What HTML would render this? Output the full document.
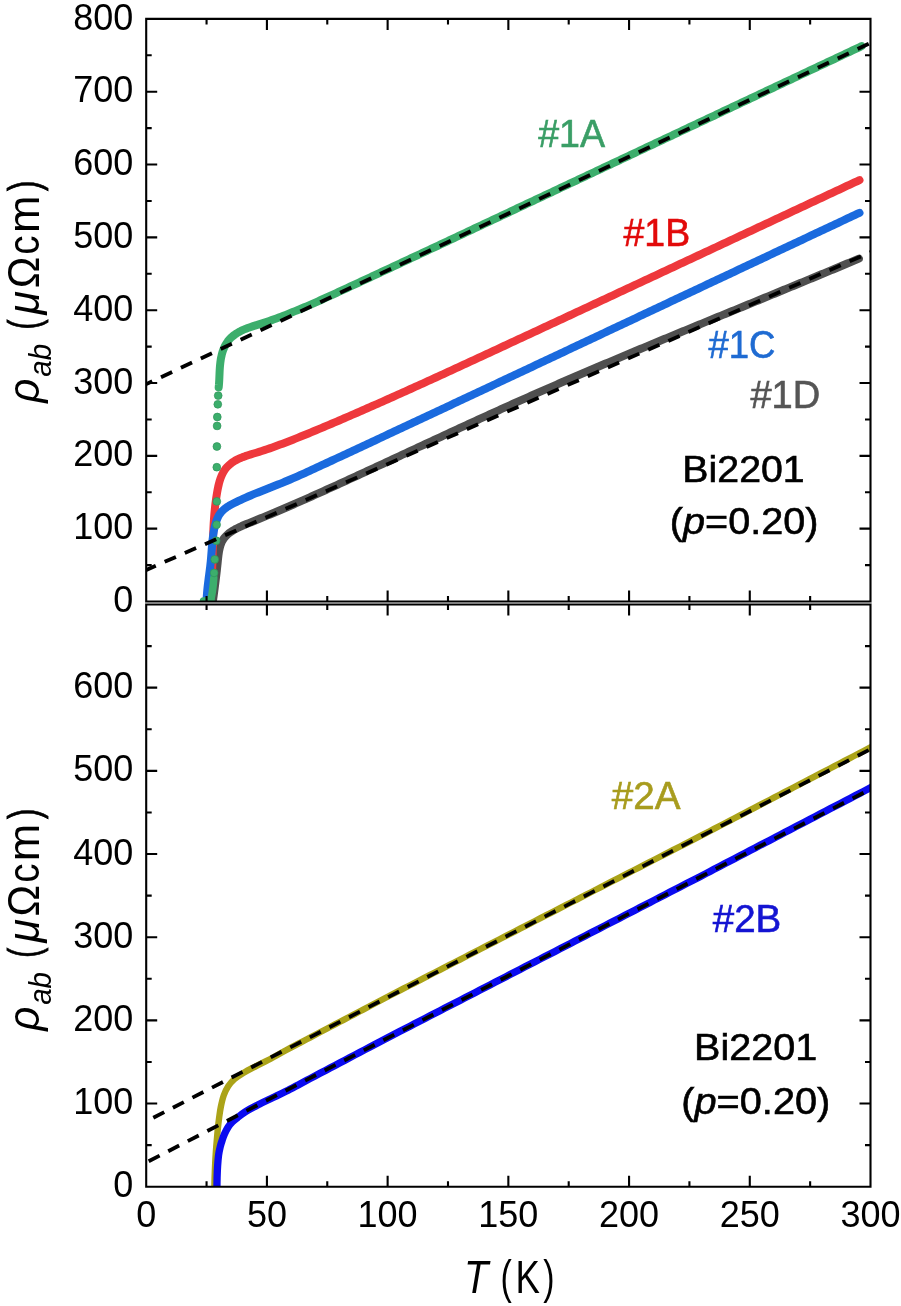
<!DOCTYPE html>
<html><head><meta charset="utf-8"><title>Bi2201 resistivity</title>
<style>html,body{margin:0;padding:0;background:#fff;width:901px;height:1306px;overflow:hidden}svg{display:block}</style>
</head><body>
<svg width="901" height="1306" viewBox="0 0 901 1306">
<rect width="901" height="1306" fill="#fff"/>
<defs><clipPath id="c1"><rect x="146.2" y="18.9" width="724.3" height="582.6"/></clipPath>
<clipPath id="c2"><rect x="146.2" y="604.5" width="724.3" height="582.2"/></clipPath></defs>
<g clip-path="url(#c1)" fill="none" stroke-linecap="round" stroke-linejoin="round" stroke-width="8">
<path d="M212.94,601 L213.28,598.43 L213.62,595.89 L213.96,593.36 L214.29,590.86 L214.62,588.36 L214.94,585.87 L215.26,583.39 L215.57,580.91 L215.88,578.43 L216.18,575.94 L216.48,573.45 L216.77,570.94 L217.05,568.41 L217.32,565.86 L217.59,563.28 L217.85,560.68 L218.12,558.06 L218.42,555.44 L218.78,552.84 L219.22,550.28 L219.77,547.78 L220.46,545.36 L221.3,543.05 L222.34,540.85 L223.59,538.8 L225.07,536.91 L226.75,535.16 L228.61,533.55 L230.6,532.06 L232.71,530.69 L234.9,529.41 L237.15,528.22 L239.43,527.1 L241.74,526.04 L244.08,525.03 L246.43,524.06 L248.8,523.1 L251.17,522.16 L253.54,521.21 L255.91,520.25 L258.27,519.29 L260.63,518.33 L262.99,517.36 L265.34,516.39 L267.69,515.42 L270.04,514.44 L272.39,513.46 L274.74,512.47 L277.08,511.48 L279.42,510.49 L281.76,509.49 L284.09,508.49 L286.43,507.49 L288.76,506.48 L291.09,505.47 L293.42,504.46 L295.75,503.44 L298.07,502.42 L300.4,501.4 L302.72,500.38 L305.04,499.35 L307.36,498.32 L309.68,497.29 L311.99,496.26 L314.31,495.22 L316.62,494.19 L318.94,493.15 L321.25,492.11 L323.56,491.06 L325.87,490.02 L328.18,488.97 L330.49,487.92 L332.8,486.87 L335.11,485.82 L337.41,484.77 L339.72,483.71 L342.03,482.66 L344.33,481.6 L346.64,480.55 L348.94,479.49 L351.25,478.43 L353.55,477.37 L355.86,476.31 L358.16,475.25 L360.46,474.18 L362.77,473.12 L365.07,472.06 L367.37,470.99 L369.68,469.93 L371.98,468.86 L374.28,467.8 L376.58,466.73 L378.89,465.66 L381.19,464.59 L383.49,463.52 L385.79,462.46 L388.09,461.39 L390.39,460.32 L392.7,459.25 L395,458.18 L397.3,457.11 L399.6,456.04 L401.9,454.96 L404.2,453.89 L406.5,452.82 L408.8,451.75 L411.1,450.68 L413.41,449.61 L415.71,448.54 L418.01,447.47 L420.31,446.4 L422.61,445.32 L424.91,444.25 L427.21,443.18 L429.52,442.11 L431.82,441.04 L434.12,439.97 L436.42,438.9 L438.73,437.83 L441.03,436.77 L443.33,435.7 L445.63,434.63 L447.94,433.56 L450.24,432.49 L452.55,431.43 L454.85,430.36 L457.15,429.3 L459.46,428.23 L461.76,427.17 L464.07,426.11 L466.38,425.05 L468.68,423.98 L470.99,422.92 L473.3,421.86 L475.6,420.81 L477.91,419.75 L480.22,418.69 L482.53,417.64 L484.84,416.58 L487.15,415.53 L489.46,414.48 L491.77,413.42 L494.08,412.37 L496.39,411.33 L498.7,410.28 L501.02,409.23 L503.33,408.19 L505.64,407.14 L507.96,406.1 L510.27,405.06 L512.59,404.02 L514.9,402.98 L517.22,401.95 L519.54,400.91 L521.86,399.88 L524.18,398.85 L526.5,397.82 L528.82,396.79 L531.14,395.76 L533.46,394.74 L535.78,393.71 L538.1,392.69 L540.43,391.67 L542.75,390.65 L545.08,389.63 L547.4,388.61 L549.73,387.59 L552.05,386.58 L554.38,385.56 L556.71,384.55 L559.03,383.54 L561.36,382.53 L563.69,381.52 L566.02,380.51 L568.35,379.51 L570.68,378.5 L573.01,377.5 L575.34,376.49 L577.67,375.49 L580.01,374.49 L582.34,373.49 L584.67,372.49 L587.01,371.5 L589.34,370.5 L591.67,369.5 L594.01,368.51 L596.34,367.52 L598.68,366.52 L601.02,365.53 L603.35,364.54 L605.69,363.55 L608.03,362.56 L610.36,361.58 L612.7,360.59 L615.04,359.6 L617.38,358.62 L619.72,357.63 L622.06,356.65 L624.4,355.67 L626.74,354.68 L629.08,353.7 L631.42,352.72 L633.76,351.74 L636.1,350.76 L638.44,349.79 L640.78,348.81 L643.13,347.83 L645.47,346.85 L647.81,345.88 L650.16,344.9 L652.5,343.93 L654.84,342.96 L657.19,341.98 L659.53,341.01 L661.87,340.04 L664.22,339.07 L666.56,338.09 L668.91,337.12 L671.25,336.15 L673.6,335.18 L675.94,334.21 L678.29,333.25 L680.64,332.28 L682.98,331.31 L685.33,330.34 L687.68,329.37 L690.02,328.41 L692.37,327.44 L694.72,326.47 L697.06,325.51 L699.41,324.54 L701.76,323.58 L704.1,322.61 L706.45,321.65 L708.8,320.68 L711.15,319.72 L713.49,318.75 L715.84,317.79 L718.19,316.82 L720.54,315.86 L722.88,314.89 L725.23,313.93 L727.58,312.97 L729.93,312 L732.28,311.04 L734.62,310.08 L736.97,309.11 L739.32,308.15 L741.67,307.19 L744.02,306.22 L746.37,305.26 L748.71,304.29 L751.06,303.33 L753.41,302.37 L755.76,301.4 L758.1,300.44 L760.45,299.48 L762.8,298.51 L765.15,297.55 L767.5,296.58 L769.84,295.62 L772.19,294.65 L774.54,293.69 L776.89,292.72 L779.23,291.75 L781.58,290.79 L783.93,289.82 L786.27,288.85 L788.62,287.89 L790.97,286.92 L793.31,285.95 L795.66,284.98 L798,284.02 L800.35,283.05 L802.7,282.08 L805.04,281.11 L807.39,280.14 L809.73,279.17 L812.08,278.19 L814.42,277.22 L816.76,276.25 L819.11,275.28 L821.45,274.3 L823.8,273.33 L826.14,272.35 L828.48,271.38 L830.83,270.4 L833.17,269.43 L835.51,268.45 L837.85,267.47 L840.2,266.49 L842.54,265.51 L844.88,264.53 L847.22,263.55 L849.56,262.57 L851.9,261.59 L854.24,260.61 L856.58,259.62 L858.92,258.64" stroke="#4f4f4f"/>
<path d="M209.86,601.01 L210.19,598.22 L210.49,595.43 L210.76,592.65 L211,589.87 L211.22,587.09 L211.42,584.31 L211.59,581.53 L211.75,578.75 L211.89,575.97 L212.02,573.2 L212.13,570.42 L212.23,567.65 L212.32,564.87 L212.4,562.1 L212.47,559.33 L212.54,556.55 L212.61,553.78 L212.68,551.01 L212.75,548.23 L212.82,545.46 L212.89,542.69 L212.98,539.91 L213.07,537.14 L213.17,534.36 L213.28,531.59 L213.4,528.81 L213.55,526.03 L213.7,523.26 L213.88,520.48 L214.08,517.69 L214.3,514.91 L214.54,512.13 L214.81,509.34 L215.11,506.56 L215.44,503.77 L215.8,500.98 L216.2,498.19 L216.63,495.39 L217.09,492.59 L217.6,489.8 L218.16,487.01 L218.79,484.26 L219.52,481.55 L220.35,478.91 L221.31,476.35 L222.42,473.89 L223.69,471.56 L225.15,469.36 L226.8,467.31 L228.64,465.42 L230.65,463.68 L232.82,462.09 L235.12,460.65 L237.54,459.36 L240.07,458.19 L242.67,457.12 L245.34,456.15 L248.06,455.24 L250.81,454.37 L253.57,453.54 L256.32,452.71 L259.04,451.88 L261.74,451.02 L264.41,450.15 L267.05,449.27 L269.68,448.36 L272.29,447.45 L274.89,446.52 L277.48,445.57 L280.06,444.62 L282.64,443.65 L285.22,442.67 L287.8,441.68 L290.38,440.68 L292.96,439.67 L295.54,438.65 L298.11,437.62 L300.69,436.58 L303.26,435.54 L305.84,434.49 L308.41,433.43 L310.98,432.37 L313.55,431.31 L316.12,430.24 L318.69,429.16 L321.26,428.08 L323.83,427 L326.39,425.92 L328.96,424.83 L331.52,423.74 L334.08,422.65 L336.64,421.56 L339.2,420.46 L341.76,419.36 L344.32,418.26 L346.88,417.16 L349.43,416.06 L351.99,414.95 L354.54,413.84 L357.09,412.73 L359.64,411.62 L362.2,410.51 L364.75,409.39 L367.29,408.27 L369.84,407.15 L372.39,406.03 L374.94,404.91 L377.48,403.78 L380.03,402.66 L382.57,401.53 L385.11,400.4 L387.65,399.27 L390.2,398.13 L392.74,397 L395.28,395.86 L397.82,394.72 L400.35,393.58 L402.89,392.44 L405.43,391.3 L407.97,390.16 L410.5,389.01 L413.04,387.87 L415.57,386.72 L418.1,385.57 L420.64,384.42 L423.17,383.27 L425.7,382.12 L428.23,380.96 L430.77,379.81 L433.3,378.65 L435.83,377.5 L438.36,376.34 L440.89,375.18 L443.41,374.02 L445.94,372.86 L448.47,371.7 L451,370.54 L453.53,369.37 L456.05,368.21 L458.58,367.05 L461.11,365.88 L463.63,364.72 L466.16,363.55 L468.68,362.38 L471.21,361.21 L473.73,360.05 L476.26,358.88 L478.78,357.71 L481.3,356.54 L483.83,355.37 L486.35,354.2 L488.88,353.03 L491.4,351.86 L493.92,350.69 L496.45,349.52 L498.97,348.35 L501.49,347.17 L504.02,346 L506.54,344.83 L509.06,343.66 L511.58,342.49 L514.11,341.31 L516.63,340.14 L519.15,338.97 L521.68,337.8 L524.2,336.62 L526.72,335.45 L529.24,334.28 L531.77,333.1 L534.29,331.93 L536.81,330.76 L539.34,329.58 L541.86,328.41 L544.38,327.24 L546.9,326.06 L549.42,324.89 L551.95,323.72 L554.47,322.54 L556.99,321.37 L559.51,320.19 L562.04,319.02 L564.56,317.84 L567.08,316.67 L569.6,315.5 L572.12,314.32 L574.65,313.15 L577.17,311.97 L579.69,310.8 L582.21,309.62 L584.73,308.45 L587.26,307.27 L589.78,306.1 L592.3,304.92 L594.82,303.75 L597.34,302.57 L599.87,301.39 L602.39,300.22 L604.91,299.04 L607.43,297.87 L609.95,296.69 L612.47,295.51 L615,294.34 L617.52,293.16 L620.04,291.99 L622.56,290.81 L625.08,289.63 L627.6,288.46 L630.12,287.28 L632.65,286.1 L635.17,284.93 L637.69,283.75 L640.21,282.57 L642.73,281.4 L645.25,280.22 L647.77,279.04 L650.29,277.87 L652.82,276.69 L655.34,275.51 L657.86,274.34 L660.38,273.16 L662.9,271.98 L665.42,270.8 L667.94,269.63 L670.46,268.45 L672.98,267.27 L675.5,266.09 L678.03,264.92 L680.55,263.74 L683.07,262.56 L685.59,261.38 L688.11,260.21 L690.63,259.03 L693.15,257.85 L695.67,256.67 L698.19,255.5 L700.71,254.32 L703.23,253.14 L705.75,251.96 L708.28,250.78 L710.8,249.61 L713.32,248.43 L715.84,247.25 L718.36,246.07 L720.88,244.89 L723.4,243.72 L725.92,242.54 L728.44,241.36 L730.96,240.18 L733.48,239 L736,237.82 L738.52,236.65 L741.04,235.47 L743.56,234.29 L746.08,233.11 L748.6,231.93 L751.12,230.76 L753.64,229.58 L756.17,228.4 L758.69,227.22 L761.21,226.04 L763.73,224.86 L766.25,223.69 L768.77,222.51 L771.29,221.33 L773.81,220.15 L776.33,218.97 L778.85,217.79 L781.37,216.61 L783.89,215.44 L786.41,214.26 L788.93,213.08 L791.45,211.9 L793.97,210.72 L796.49,209.54 L799.01,208.37 L801.53,207.19 L804.05,206.01 L806.57,204.83 L809.09,203.65 L811.61,202.48 L814.13,201.3 L816.65,200.12 L819.17,198.94 L821.69,197.76 L824.21,196.58 L826.73,195.41 L829.25,194.23 L831.77,193.05 L834.29,191.87 L836.81,190.69 L839.33,189.52 L841.85,188.34 L844.37,187.16 L846.89,185.98 L849.41,184.8 L851.93,183.63 L854.46,182.45 L856.98,181.27 L859.5,180.09" stroke="#ee383c"/>
<path d="M206.57,601.03 L206.67,598.33 L206.83,595.65 L207.03,592.98 L207.27,590.32 L207.54,587.67 L207.84,585.03 L208.15,582.39 L208.49,579.76 L208.83,577.13 L209.17,574.51 L209.52,571.88 L209.85,569.25 L210.17,566.62 L210.47,563.99 L210.75,561.35 L210.99,558.7 L211.21,556.05 L211.42,553.39 L211.62,550.72 L211.82,548.05 L212.04,545.38 L212.28,542.71 L212.56,540.04 L212.87,537.36 L213.24,534.69 L213.67,532.02 L214.16,529.36 L214.74,526.7 L215.41,524.06 L216.2,521.47 L217.14,518.97 L218.24,516.58 L219.53,514.34 L221.04,512.29 L222.78,510.43 L224.72,508.76 L226.82,507.24 L229.05,505.83 L231.37,504.53 L233.73,503.28 L236.12,502.08 L238.52,500.91 L240.93,499.77 L243.36,498.65 L245.79,497.57 L248.24,496.5 L250.69,495.46 L253.16,494.43 L255.62,493.42 L258.1,492.42 L260.57,491.43 L263.06,490.45 L265.54,489.47 L268.02,488.5 L270.51,487.53 L272.99,486.55 L275.47,485.57 L277.95,484.59 L280.42,483.59 L282.89,482.58 L285.35,481.56 L287.8,480.53 L290.25,479.49 L292.7,478.43 L295.14,477.37 L297.58,476.3 L300.01,475.21 L302.45,474.13 L304.87,473.03 L307.3,471.93 L309.72,470.82 L312.14,469.71 L314.56,468.6 L316.98,467.48 L319.39,466.36 L321.81,465.24 L324.23,464.12 L326.64,463 L329.06,461.87 L331.47,460.75 L333.89,459.63 L336.3,458.5 L338.72,457.38 L341.13,456.26 L343.55,455.13 L345.96,454.01 L348.38,452.89 L350.79,451.76 L353.21,450.64 L355.62,449.51 L358.03,448.39 L360.45,447.26 L362.86,446.14 L365.28,445.01 L367.69,443.88 L370.11,442.76 L372.52,441.63 L374.93,440.51 L377.35,439.38 L379.76,438.25 L382.17,437.13 L384.59,436 L387,434.87 L389.41,433.74 L391.83,432.62 L394.24,431.49 L396.65,430.36 L399.06,429.23 L401.48,428.1 L403.89,426.97 L406.3,425.85 L408.72,424.72 L411.13,423.59 L413.54,422.46 L415.95,421.33 L418.37,420.2 L420.78,419.07 L423.19,417.94 L425.6,416.81 L428.01,415.68 L430.43,414.55 L432.84,413.42 L435.25,412.29 L437.66,411.16 L440.07,410.03 L442.49,408.9 L444.9,407.77 L447.31,406.64 L449.72,405.51 L452.13,404.37 L454.54,403.24 L456.96,402.11 L459.37,400.98 L461.78,399.85 L464.19,398.72 L466.6,397.59 L469.01,396.45 L471.42,395.32 L473.84,394.19 L476.25,393.06 L478.66,391.93 L481.07,390.79 L483.48,389.66 L485.89,388.53 L488.3,387.4 L490.71,386.26 L493.12,385.13 L495.53,384 L497.95,382.87 L500.36,381.73 L502.77,380.6 L505.18,379.47 L507.59,378.34 L510,377.2 L512.41,376.07 L514.82,374.94 L517.23,373.8 L519.64,372.67 L522.05,371.54 L524.46,370.41 L526.88,369.27 L529.29,368.14 L531.7,367.01 L534.11,365.87 L536.52,364.74 L538.93,363.61 L541.34,362.47 L543.75,361.34 L546.16,360.21 L548.57,359.07 L550.98,357.94 L553.39,356.81 L555.8,355.67 L558.21,354.54 L560.62,353.41 L563.03,352.27 L565.44,351.14 L567.85,350 L570.26,348.87 L572.67,347.74 L575.09,346.6 L577.5,345.47 L579.91,344.34 L582.32,343.2 L584.73,342.07 L587.14,340.94 L589.55,339.8 L591.96,338.67 L594.37,337.53 L596.78,336.4 L599.19,335.27 L601.6,334.13 L604.01,333 L606.42,331.86 L608.83,330.73 L611.24,329.6 L613.65,328.46 L616.06,327.33 L618.47,326.19 L620.88,325.06 L623.29,323.93 L625.7,322.79 L628.11,321.66 L630.52,320.52 L632.93,319.39 L635.34,318.26 L637.75,317.12 L640.16,315.99 L642.57,314.85 L644.98,313.72 L647.39,312.59 L649.8,311.45 L652.21,310.32 L654.62,309.18 L657.03,308.05 L659.44,306.91 L661.85,305.78 L664.26,304.65 L666.67,303.51 L669.08,302.38 L671.49,301.24 L673.9,300.11 L676.31,298.98 L678.72,297.84 L681.13,296.71 L683.54,295.57 L685.95,294.44 L688.36,293.3 L690.77,292.17 L693.18,291.04 L695.59,289.9 L698,288.77 L700.42,287.63 L702.83,286.5 L705.24,285.37 L707.65,284.23 L710.06,283.1 L712.47,281.96 L714.88,280.83 L717.29,279.7 L719.7,278.56 L722.11,277.43 L724.52,276.29 L726.93,275.16 L729.34,274.03 L731.75,272.89 L734.16,271.76 L736.57,270.62 L738.98,269.49 L741.39,268.36 L743.8,267.22 L746.21,266.09 L748.62,264.95 L751.03,263.82 L753.44,262.69 L755.85,261.55 L758.26,260.42 L760.67,259.28 L763.08,258.15 L765.49,257.02 L767.9,255.88 L770.31,254.75 L772.72,253.62 L775.13,252.48 L777.54,251.35 L779.95,250.22 L782.36,249.08 L784.77,247.95 L787.19,246.82 L789.6,245.68 L792.01,244.55 L794.42,243.41 L796.83,242.28 L799.24,241.15 L801.65,240.01 L804.06,238.88 L806.47,237.75 L808.88,236.62 L811.29,235.48 L813.7,234.35 L816.11,233.22 L818.52,232.08 L820.93,230.95 L823.34,229.82 L825.76,228.68 L828.17,227.55 L830.58,226.42 L832.99,225.29 L835.4,224.15 L837.81,223.02 L840.22,221.89 L842.63,220.75 L845.04,219.62 L847.45,218.49 L849.86,217.36 L852.27,216.22 L854.69,215.09 L857.1,213.96 L859.51,212.83" stroke="#1a6ade"/>
<path d="M218.69,387.33 L218.92,385.04 L219.1,382.67 L219.24,380.24 L219.35,377.77 L219.45,375.25 L219.56,372.71 L219.69,370.14 L219.86,367.56 L220.08,364.97 L220.36,362.4 L220.72,359.83 L221.18,357.3 L221.74,354.8 L222.41,352.36 L223.2,349.98 L224.12,347.69 L225.17,345.48 L226.37,343.38 L227.72,341.4 L229.23,339.55 L230.89,337.82 L232.68,336.22 L234.59,334.74 L236.6,333.36 L238.7,332.1 L240.88,330.94 L243.11,329.89 L245.4,328.92 L247.73,328.02 L250.09,327.18 L252.48,326.39 L254.88,325.62 L257.29,324.86 L259.7,324.11 L262.11,323.33 L264.5,322.55 L266.89,321.74 L269.27,320.93 L271.65,320.1 L274.02,319.26 L276.38,318.4 L278.73,317.53 L281.09,316.65 L283.43,315.76 L285.77,314.86 L288.1,313.95 L290.43,313.02 L292.76,312.09 L295.08,311.15 L297.39,310.19 L299.7,309.23 L302.01,308.26 L304.31,307.29 L306.61,306.3 L308.91,305.31 L311.2,304.31 L313.49,303.31 L315.78,302.3 L318.06,301.28 L320.34,300.26 L322.62,299.24 L324.9,298.21 L327.17,297.17 L329.45,296.14 L331.72,295.1 L333.99,294.06 L336.26,293.01 L338.53,291.97 L340.8,290.92 L343.07,289.87 L345.34,288.82 L347.61,287.77 L349.88,286.72 L352.15,285.67 L354.42,284.62 L356.68,283.57 L358.95,282.52 L361.22,281.47 L363.49,280.41 L365.76,279.36 L368.02,278.31 L370.29,277.26 L372.56,276.2 L374.83,275.15 L377.09,274.09 L379.36,273.04 L381.63,271.98 L383.89,270.93 L386.16,269.87 L388.43,268.82 L390.69,267.76 L392.96,266.7 L395.23,265.64 L397.49,264.59 L399.76,263.53 L402.03,262.47 L404.29,261.41 L406.56,260.35 L408.83,259.3 L411.09,258.24 L413.36,257.18 L415.62,256.12 L417.89,255.06 L420.15,254 L422.42,252.94 L424.69,251.88 L426.95,250.81 L429.22,249.75 L431.48,248.69 L433.75,247.63 L436.01,246.57 L438.28,245.51 L440.54,244.44 L442.81,243.38 L445.07,242.32 L447.34,241.26 L449.6,240.19 L451.87,239.13 L454.13,238.07 L456.39,237 L458.66,235.94 L460.92,234.87 L463.19,233.81 L465.45,232.75 L467.72,231.68 L469.98,230.62 L472.25,229.55 L474.51,228.49 L476.77,227.42 L479.04,226.36 L481.3,225.29 L483.57,224.23 L485.83,223.16 L488.09,222.1 L490.36,221.03 L492.62,219.97 L494.89,218.9 L497.15,217.84 L499.41,216.77 L501.68,215.71 L503.94,214.64 L506.2,213.57 L508.47,212.51 L510.73,211.44 L512.99,210.38 L515.26,209.31 L517.52,208.24 L519.79,207.18 L522.05,206.11 L524.31,205.05 L526.58,203.98 L528.84,202.92 L531.1,201.85 L533.37,200.78 L535.63,199.72 L537.89,198.65 L540.16,197.59 L542.42,196.52 L544.68,195.45 L546.95,194.39 L549.21,193.32 L551.47,192.26 L553.74,191.19 L556,190.13 L558.26,189.06 L560.52,187.99 L562.79,186.93 L565.05,185.86 L567.31,184.8 L569.58,183.73 L571.84,182.66 L574.1,181.6 L576.37,180.53 L578.63,179.47 L580.89,178.4 L583.16,177.33 L585.42,176.27 L587.68,175.2 L589.94,174.14 L592.21,173.07 L594.47,172 L596.73,170.94 L599,169.87 L601.26,168.81 L603.52,167.74 L605.79,166.67 L608.05,165.61 L610.31,164.54 L612.57,163.48 L614.84,162.41 L617.1,161.34 L619.36,160.28 L621.63,159.21 L623.89,158.15 L626.15,157.08 L628.41,156.01 L630.68,154.95 L632.94,153.88 L635.2,152.82 L637.46,151.75 L639.73,150.68 L641.99,149.62 L644.25,148.55 L646.52,147.49 L648.78,146.42 L651.04,145.35 L653.3,144.29 L655.57,143.22 L657.83,142.16 L660.09,141.09 L662.36,140.02 L664.62,138.96 L666.88,137.89 L669.14,136.83 L671.41,135.76 L673.67,134.69 L675.93,133.63 L678.19,132.56 L680.46,131.5 L682.72,130.43 L684.98,129.37 L687.25,128.3 L689.51,127.23 L691.77,126.17 L694.03,125.1 L696.3,124.04 L698.56,122.97 L700.82,121.9 L703.09,120.84 L705.35,119.77 L707.61,118.71 L709.87,117.64 L712.14,116.57 L714.4,115.51 L716.66,114.44 L718.92,113.38 L721.19,112.31 L723.45,111.24 L725.71,110.18 L727.98,109.11 L730.24,108.05 L732.5,106.98 L734.76,105.91 L737.03,104.85 L739.29,103.78 L741.55,102.72 L743.82,101.65 L746.08,100.58 L748.34,99.52 L750.61,98.45 L752.87,97.39 L755.13,96.32 L757.39,95.25 L759.66,94.19 L761.92,93.12 L764.18,92.06 L766.45,90.99 L768.71,89.93 L770.97,88.86 L773.24,87.79 L775.5,86.73 L777.76,85.66 L780.02,84.6 L782.29,83.53 L784.55,82.46 L786.81,81.4 L789.08,80.33 L791.34,79.27 L793.6,78.2 L795.87,77.13 L798.13,76.07 L800.39,75 L802.66,73.94 L804.92,72.87 L807.18,71.81 L809.45,70.74 L811.71,69.67 L813.97,68.61 L816.24,67.54 L818.5,66.48 L820.76,65.41 L823.03,64.35 L825.29,63.28 L827.55,62.21 L829.82,61.15 L832.08,60.08 L834.35,59.02 L836.61,57.95 L838.87,56.89 L841.14,55.82 L843.4,54.75 L845.66,53.69 L847.93,52.62 L850.19,51.56 L852.45,50.49 L854.72,49.43 L856.98,48.36 L859.25,47.29 L861.51,46.23" stroke="#3cae6c"/>
<path d="M203.5,601 L211,601" stroke="#3cae6c" stroke-width="7.5"/>
<path d="M213.8,578C213.7,579.17 213.45,582.67 213.2,585C212.95,587.33 212.63,589.83 212.3,592C211.97,594.17 211.5,596.58 211.2,598C210.9,599.42 210.62,600.08 210.5,600.5" stroke="#3cae6c" stroke-width="7.5"/>
</g>
<g clip-path="url(#c1)" fill="#3cae6c">
<circle cx="216.9" cy="446.5" r="3.9" stroke="#2f9459" stroke-width="0.7"/>
<circle cx="217.1" cy="425.9" r="3.9" stroke="#2f9459" stroke-width="0.7"/>
<circle cx="217.3" cy="417" r="3.9" stroke="#2f9459" stroke-width="0.7"/>
<circle cx="217.8" cy="404.3" r="3.9" stroke="#2f9459" stroke-width="0.7"/>
<circle cx="218.2" cy="395.6" r="3.9" stroke="#2f9459" stroke-width="0.7"/>
<circle cx="216.8" cy="467.2" r="3.9" stroke="#2f9459" stroke-width="0.7"/>
<circle cx="216.8" cy="501.4" r="3.9" stroke="#2f9459" stroke-width="0.7"/>
<circle cx="216.6" cy="524.7" r="3.9" stroke="#2f9459" stroke-width="0.7"/>
<circle cx="216.2" cy="540.7" r="3.9" stroke="#2f9459" stroke-width="0.7"/>
<circle cx="214.7" cy="559.4" r="3.9" stroke="#2f9459" stroke-width="0.7"/>
<circle cx="214.1" cy="572.9" r="3.9" stroke="#2f9459" stroke-width="0.7"/>
</g>
<g clip-path="url(#c1)" fill="none" stroke="#000" stroke-width="3.8" stroke-dasharray="12.3 9.7">
<path d="M121.21,395.91 L875,40.87"/>
<path d="M124.37,579.54 L875,250.22"/>
</g>
<g clip-path="url(#c2)" fill="none" stroke-linecap="round" stroke-linejoin="round">
<path d="M214.3,1192C214.35,1189.67 214.45,1182.83 214.6,1178C214.75,1173.17 214.97,1167.67 215.2,1163C215.43,1158.33 215.72,1154 216,1150C216.28,1146 216.58,1142.67 216.9,1139C217.22,1135.33 217.53,1131.5 217.9,1128C218.27,1124.5 218.62,1121.5 219.1,1118C219.58,1114.5 220.02,1110.78 220.8,1107C221.58,1103.22 222.57,1098.75 223.8,1095.3C225.03,1091.85 226.43,1088.98 228.2,1086.3C229.97,1083.62 231.88,1081.42 234.4,1079.2C236.92,1076.98 239.75,1075.15 243.3,1073C246.85,1070.85 251.55,1068.47 255.7,1066.3C259.85,1064.13 263.15,1062.68 268.2,1060C273.25,1057.32 280.7,1053.06 286,1050.2C291.3,1047.34 296,1044.92 300,1042.81C304,1040.71 306.67,1039.31 310,1037.55C313.33,1035.8 316.67,1034.05 320,1032.29C323.33,1030.54 326.67,1028.79 330,1027.03C333.33,1025.28 336.67,1023.53 340,1021.78C343.33,1020.02 346.67,1018.27 350,1016.52C353.33,1014.76 356.67,1013.01 360,1011.26C363.33,1009.5 366.67,1007.75 370,1006C373.33,1004.24 376.67,1002.48 380,1000.74C383.33,998.99 386.67,997.25 390,995.53C393.33,993.8 396.67,992.1 400,990.39C403.33,988.67 406.67,986.96 410,985.25C413.33,983.53 416.67,981.82 420,980.11C423.33,978.39 426.67,976.68 430,974.97C433.33,973.25 436.67,971.54 440,969.83C443.33,968.11 446.67,966.4 450,964.69C453.33,962.97 456.67,961.26 460,959.55C463.33,957.84 466.67,956.12 470,954.41C473.33,952.7 476.67,950.98 480,949.27C483.33,947.56 486.67,945.84 490,944.13C493.33,942.42 496.67,940.7 500,938.99C503.33,937.28 506.67,935.56 510,933.85C513.33,932.14 516.67,930.42 520,928.71C523.33,927 526.67,925.28 530,923.57C533.33,921.86 536.67,920.14 540,918.43C543.33,916.72 546.67,915.01 550,913.29C553.33,911.58 556.67,909.87 560,908.15C563.33,906.44 566.67,904.73 570,903.01C573.33,901.3 576.67,899.59 580,897.87C583.33,896.16 586.67,894.45 590,892.73C593.33,891.02 596.67,889.31 600,887.59C603.33,885.88 606.67,884.17 610,882.45C613.33,880.74 616.67,879.03 620,877.32C623.33,875.6 626.67,873.89 630,872.18C633.33,870.46 636.67,868.75 640,867.04C643.33,865.32 646.67,863.61 650,861.9C653.33,860.18 656.67,858.47 660,856.76C663.33,855.04 666.67,853.33 670,851.62C673.33,849.9 676.67,848.19 680,846.48C683.33,844.76 686.67,843.05 690,841.34C693.33,839.62 696.67,837.92 700,836.2C703.33,834.47 706.67,832.72 710,830.99C713.33,829.25 716.67,827.51 720,825.78C723.33,824.04 726.67,822.3 730,820.57C733.33,818.83 736.67,817.09 740,815.36C743.33,813.62 746.67,811.88 750,810.15C753.33,808.41 756.67,806.67 760,804.94C763.33,803.2 766.67,801.46 770,799.73C773.33,797.99 776.67,796.25 780,794.52C783.33,792.78 786.67,791.04 790,789.31C793.33,787.57 796.67,785.83 800,784.1C803.33,782.36 806.67,780.62 810,778.89C813.33,777.15 816.67,775.41 820,773.68C823.33,771.94 826.67,770.2 830,768.47C833.33,766.73 836.67,764.99 840,763.26C843.33,761.52 846.67,759.78 850,758.05C853.33,756.31 856.67,754.57 860,752.84C863.33,751.1 867.5,748.93 870,747.63C872.5,746.32 874.17,745.45 875,745.02" stroke="#aba318" stroke-width="6.4"/>
<path d="M216.9,1192C216.93,1189.67 216.98,1182.33 217.1,1178C217.22,1173.67 217.35,1169.83 217.6,1166C217.85,1162.17 218.17,1158.2 218.6,1155C219.03,1151.8 219.6,1149.27 220.2,1146.8C220.8,1144.33 221.47,1142.37 222.2,1140.2C222.93,1138.03 223.6,1136 224.6,1133.8C225.6,1131.6 226.88,1129 228.2,1127C229.52,1125 230.98,1123.33 232.5,1121.8C234.02,1120.27 235.05,1119.53 237.3,1117.8C239.55,1116.07 242.33,1113.67 246,1111.4C249.67,1109.13 254.87,1106.47 259.3,1104.2C263.73,1101.93 268.15,1099.95 272.6,1097.8C277.05,1095.65 281.43,1093.62 286,1091.3C290.57,1088.98 296,1086.01 300,1083.9C304,1081.78 306.67,1080.38 310,1078.62C313.33,1076.86 316.67,1075.1 320,1073.34C323.33,1071.59 326.67,1069.83 330,1068.07C333.33,1066.31 336.67,1064.55 340,1062.79C343.33,1061.03 346.67,1059.28 350,1057.52C353.33,1055.76 356.67,1054 360,1052.24C363.33,1050.48 366.67,1048.73 370,1046.97C373.33,1045.21 376.67,1043.44 380,1041.69C383.33,1039.94 386.67,1038.19 390,1036.46C393.33,1034.73 396.67,1033.03 400,1031.31C403.33,1029.59 406.67,1027.87 410,1026.15C413.33,1024.43 416.67,1022.72 420,1021C423.33,1019.28 426.67,1017.56 430,1015.84C433.33,1014.12 436.67,1012.4 440,1010.69C443.33,1008.97 446.67,1007.25 450,1005.53C453.33,1003.81 456.67,1002.09 460,1000.38C463.33,998.66 466.67,996.94 470,995.22C473.33,993.5 476.67,991.78 480,990.06C483.33,988.35 486.67,986.63 490,984.91C493.33,983.19 496.67,981.47 500,979.75C503.33,978.04 506.67,976.32 510,974.6C513.33,972.88 516.67,971.16 520,969.44C523.33,967.72 526.67,966.01 530,964.29C533.33,962.57 536.67,960.85 540,959.13C543.33,957.41 546.67,955.69 550,953.98C553.33,952.26 556.67,950.54 560,948.82C563.33,947.1 566.67,945.38 570,943.67C573.33,941.95 576.67,940.23 580,938.51C583.33,936.79 586.67,935.07 590,933.35C593.33,931.64 596.67,929.92 600,928.2C603.33,926.48 606.67,924.76 610,923.04C613.33,921.32 616.67,919.61 620,917.89C623.33,916.17 626.67,914.45 630,912.73C633.33,911.01 636.67,909.3 640,907.58C643.33,905.86 646.67,904.14 650,902.42C653.33,900.7 656.67,898.98 660,897.27C663.33,895.55 666.67,893.83 670,892.11C673.33,890.39 676.67,888.67 680,886.95C683.33,885.24 686.67,883.52 690,881.8C693.33,880.08 696.67,878.37 700,876.64C703.33,874.92 706.67,873.17 710,871.43C713.33,869.69 716.67,867.95 720,866.22C723.33,864.48 726.67,862.74 730,861C733.33,859.26 736.67,857.52 740,855.79C743.33,854.05 746.67,852.31 750,850.57C753.33,848.83 756.67,847.1 760,845.36C763.33,843.62 766.67,841.88 770,840.14C773.33,838.41 776.67,836.67 780,834.93C783.33,833.19 786.67,831.45 790,829.71C793.33,827.98 796.67,826.24 800,824.5C803.33,822.76 806.67,821.02 810,819.29C813.33,817.55 816.67,815.81 820,814.07C823.33,812.33 826.67,810.6 830,808.86C833.33,807.12 836.67,805.38 840,803.64C843.33,801.91 846.67,800.17 850,798.43C853.33,796.69 856.67,794.95 860,793.21C863.33,791.48 867.5,789.3 870,788C872.5,786.7 874.17,785.83 875,785.39" stroke="#0b0bf0" stroke-width="7.3"/>
</g>
<g clip-path="url(#c2)" fill="none" stroke="#000" stroke-width="3.8" stroke-dasharray="12.3 9.7">
<path d="M133.75,1127.83 L875,746.86"/>
<path d="M129.13,1171.35 L875,786.82"/>
</g>
<g fill="none" stroke="#000" stroke-width="2.1" stroke-linecap="butt">
<path d="M146.2,18.9 H870.5 V601.5 H146.2 Z"/>
<path d="M146.2,604.5 H870.5 V1186.7 H146.2 Z"/>
<path d="M146.2,565.09 h5.5 M870.5,565.09 h-5.5 M146.2,528.67 h11 M870.5,528.67 h-11 M146.2,492.26 h5.5 M870.5,492.26 h-5.5 M146.2,455.85 h11 M870.5,455.85 h-11 M146.2,419.44 h5.5 M870.5,419.44 h-5.5 M146.2,383.02 h11 M870.5,383.02 h-11 M146.2,346.61 h5.5 M870.5,346.61 h-5.5 M146.2,310.2 h11 M870.5,310.2 h-11 M146.2,273.79 h5.5 M870.5,273.79 h-5.5 M146.2,237.37 h11 M870.5,237.37 h-11 M146.2,200.96 h5.5 M870.5,200.96 h-5.5 M146.2,164.55 h11 M870.5,164.55 h-11 M146.2,128.14 h5.5 M870.5,128.14 h-5.5 M146.2,91.72 h11 M870.5,91.72 h-11 M146.2,55.31 h5.5 M870.5,55.31 h-5.5 M146.2,1145.11 h5.5 M870.5,1145.11 h-5.5 M146.2,1103.53 h11 M870.5,1103.53 h-11 M146.2,1061.94 h5.5 M870.5,1061.94 h-5.5 M146.2,1020.36 h11 M870.5,1020.36 h-11 M146.2,978.77 h5.5 M870.5,978.77 h-5.5 M146.2,937.19 h11 M870.5,937.19 h-11 M146.2,895.6 h5.5 M870.5,895.6 h-5.5 M146.2,854.01 h11 M870.5,854.01 h-11 M146.2,812.43 h5.5 M870.5,812.43 h-5.5 M146.2,770.84 h11 M870.5,770.84 h-11 M146.2,729.26 h5.5 M870.5,729.26 h-5.5 M146.2,687.67 h11 M870.5,687.67 h-11 M146.2,646.09 h5.5 M870.5,646.09 h-5.5 M206.56,18.9 v5.5 M206.56,601.5 v-5.5 M206.56,604.5 v5.5 M206.56,1186.7 v-5.5 M266.92,18.9 v11 M266.92,601.5 v-11 M266.92,604.5 v11 M266.92,1186.7 v-11 M327.27,18.9 v5.5 M327.27,601.5 v-5.5 M327.27,604.5 v5.5 M327.27,1186.7 v-5.5 M387.63,18.9 v11 M387.63,601.5 v-11 M387.63,604.5 v11 M387.63,1186.7 v-11 M447.99,18.9 v5.5 M447.99,601.5 v-5.5 M447.99,604.5 v5.5 M447.99,1186.7 v-5.5 M508.35,18.9 v11 M508.35,601.5 v-11 M508.35,604.5 v11 M508.35,1186.7 v-11 M568.71,18.9 v5.5 M568.71,601.5 v-5.5 M568.71,604.5 v5.5 M568.71,1186.7 v-5.5 M629.07,18.9 v11 M629.07,601.5 v-11 M629.07,604.5 v11 M629.07,1186.7 v-11 M689.42,18.9 v5.5 M689.42,601.5 v-5.5 M689.42,604.5 v5.5 M689.42,1186.7 v-5.5 M749.78,18.9 v11 M749.78,601.5 v-11 M749.78,604.5 v11 M749.78,1186.7 v-11 M810.14,18.9 v5.5 M810.14,601.5 v-5.5 M810.14,604.5 v5.5 M810.14,1186.7 v-5.5"/>
</g>
<rect x="145.2" y="602.5" width="726.3" height="1.1" fill="#808080"/>
<g font-family="'Liberation Sans', sans-serif" font-size="36" fill="#000" text-anchor="end">
<text x="133.4" y="612.1">0</text>
<text x="133.4" y="539.27">100</text>
<text x="133.4" y="466.45">200</text>
<text x="133.4" y="393.62">300</text>
<text x="133.4" y="320.8">400</text>
<text x="133.4" y="247.97">500</text>
<text x="133.4" y="175.15">600</text>
<text x="133.4" y="102.32">700</text>
<text x="133.4" y="29.5">800</text>
<text x="133.4" y="1197.3">0</text>
<text x="133.4" y="1114.13">100</text>
<text x="133.4" y="1030.96">200</text>
<text x="133.4" y="947.79">300</text>
<text x="133.4" y="864.61">400</text>
<text x="133.4" y="781.44">500</text>
<text x="133.4" y="698.27">600</text>
</g>
<g font-family="'Liberation Sans', sans-serif" font-size="36" fill="#000" text-anchor="middle">
<text x="146.2" y="1226.6">0</text>
<text x="266.92" y="1226.6">50</text>
<text x="387.63" y="1226.6">100</text>
<text x="508.35" y="1226.6">150</text>
<text x="629.07" y="1226.6">200</text>
<text x="749.78" y="1226.6">250</text>
<text x="870.5" y="1226.6">300</text>
</g>
<text font-family="'Liberation Sans', sans-serif" font-size="45.5" fill="#000" x="463.94" y="1292.8" textLength="24.22" lengthAdjust="spacingAndGlyphs" font-style="italic">T</text>
<text font-family="'Liberation Sans', sans-serif" font-size="45.5" fill="#000" x="500.4" y="1292.8" textLength="11.3" lengthAdjust="spacingAndGlyphs">(</text>
<text font-family="'Liberation Sans', sans-serif" font-size="45.5" fill="#000" x="515.5" y="1292.8" textLength="24.41" lengthAdjust="spacingAndGlyphs">K</text>
<text font-family="'Liberation Sans', sans-serif" font-size="45.5" fill="#000" x="543.3" y="1292.8" textLength="11.3" lengthAdjust="spacingAndGlyphs">)</text>
<text font-family="'Liberation Sans', sans-serif" font-size="44" fill="#000" x="-402.67" y="0" textLength="24.17" lengthAdjust="spacingAndGlyphs" font-style="italic" transform="translate(38.8,0) rotate(-90)">ρ</text>
<text font-family="'Liberation Sans', sans-serif" font-size="45" fill="#000" x="-329.57" y="0" textLength="10.05" lengthAdjust="spacingAndGlyphs" stroke="#000" stroke-width="0.9" transform="translate(38.8,0) rotate(-90)">(</text>
<text font-family="'Liberation Sans', sans-serif" font-size="44" fill="#000" x="-314.5" y="0" textLength="23.39" lengthAdjust="spacingAndGlyphs" font-style="italic" transform="translate(38.8,0) rotate(-90)">μ</text>
<text font-family="'Liberation Sans', sans-serif" font-size="44" fill="#000" x="-288.3" y="0" textLength="31.61" lengthAdjust="spacingAndGlyphs" transform="translate(38.8,0) rotate(-90)">Ω</text>
<text font-family="'Liberation Sans', sans-serif" font-size="44" fill="#000" x="-254.74" y="0" textLength="19.25" lengthAdjust="spacingAndGlyphs" transform="translate(38.8,0) rotate(-90)">c</text>
<text font-family="'Liberation Sans', sans-serif" font-size="44" fill="#000" x="-233.09" y="0" textLength="37.57" lengthAdjust="spacingAndGlyphs" transform="translate(38.8,0) rotate(-90)">m</text>
<text font-family="'Liberation Sans', sans-serif" font-size="45" fill="#000" x="-190.98" y="0" textLength="10.42" lengthAdjust="spacingAndGlyphs" stroke="#000" stroke-width="0.9" transform="translate(38.8,0) rotate(-90)">)</text>
<text font-family="'Liberation Sans', sans-serif" font-size="30.5" font-style="italic" fill="#000" x="-376.76" y="12" textLength="32.87" lengthAdjust="spacingAndGlyphs" transform="translate(38.8,0) rotate(-90)">ab</text>
<text font-family="'Liberation Sans', sans-serif" font-size="44" fill="#000" x="-1030.77" y="0" textLength="24.17" lengthAdjust="spacingAndGlyphs" font-style="italic" transform="translate(38.8,0) rotate(-90)">ρ</text>
<text font-family="'Liberation Sans', sans-serif" font-size="45" fill="#000" x="-957.67" y="0" textLength="10.05" lengthAdjust="spacingAndGlyphs" stroke="#000" stroke-width="0.9" transform="translate(38.8,0) rotate(-90)">(</text>
<text font-family="'Liberation Sans', sans-serif" font-size="44" fill="#000" x="-942.6" y="0" textLength="23.39" lengthAdjust="spacingAndGlyphs" font-style="italic" transform="translate(38.8,0) rotate(-90)">μ</text>
<text font-family="'Liberation Sans', sans-serif" font-size="44" fill="#000" x="-916.4" y="0" textLength="31.61" lengthAdjust="spacingAndGlyphs" transform="translate(38.8,0) rotate(-90)">Ω</text>
<text font-family="'Liberation Sans', sans-serif" font-size="44" fill="#000" x="-882.84" y="0" textLength="19.25" lengthAdjust="spacingAndGlyphs" transform="translate(38.8,0) rotate(-90)">c</text>
<text font-family="'Liberation Sans', sans-serif" font-size="44" fill="#000" x="-861.19" y="0" textLength="37.57" lengthAdjust="spacingAndGlyphs" transform="translate(38.8,0) rotate(-90)">m</text>
<text font-family="'Liberation Sans', sans-serif" font-size="45" fill="#000" x="-819.08" y="0" textLength="10.42" lengthAdjust="spacingAndGlyphs" stroke="#000" stroke-width="0.9" transform="translate(38.8,0) rotate(-90)">)</text>
<text font-family="'Liberation Sans', sans-serif" font-size="30.5" font-style="italic" fill="#000" x="-1004.86" y="12" textLength="32.87" lengthAdjust="spacingAndGlyphs" transform="translate(38.8,0) rotate(-90)">ab</text>
<text font-family="'Liberation Sans', sans-serif" font-size="38.2" fill="#3a9e66" stroke="#3a9e66" x="538.13" y="146.6" textLength="66.94" lengthAdjust="spacingAndGlyphs" stroke-width="0.6">#1A</text>
<text font-family="'Liberation Sans', sans-serif" font-size="38.2" fill="#e20a0a" stroke="#e20a0a" x="623.54" y="246.4" textLength="66.64" lengthAdjust="spacingAndGlyphs" stroke-width="0.6">#1B</text>
<text font-family="'Liberation Sans', sans-serif" font-size="38.2" fill="#1f6bd2" stroke="#1f6bd2" x="708.44" y="357.9" textLength="66.95" lengthAdjust="spacingAndGlyphs" stroke-width="0.6">#1C</text>
<text font-family="'Liberation Sans', sans-serif" font-size="38.2" fill="#555555" stroke="#555555" x="750.43" y="408.4" textLength="69.89" lengthAdjust="spacingAndGlyphs" stroke-width="0.6">#1D</text>
<text font-family="'Liberation Sans', sans-serif" font-size="38.2" fill="#a89c1e" stroke="#a89c1e" x="611.73" y="808.9" textLength="68.75" lengthAdjust="spacingAndGlyphs" stroke-width="0.6">#2A</text>
<text font-family="'Liberation Sans', sans-serif" font-size="38.2" fill="#1414d2" stroke="#1414d2" x="712.73" y="932.4" textLength="68.6" lengthAdjust="spacingAndGlyphs" stroke-width="0.6">#2B</text>
<text font-family="'Liberation Sans', sans-serif" font-size="37" fill="#000" stroke="#000" x="682.38" y="481.6" textLength="122.34" lengthAdjust="spacingAndGlyphs" stroke-width="0.6">Bi2201</text>
<text font-family="'Liberation Sans', sans-serif" font-size="37" fill="#000" stroke="#000" x="669.85" y="533.8" textLength="148.51" lengthAdjust="spacingAndGlyphs" stroke-width="0.6">(<tspan font-style="italic">p</tspan>=0.20)</text>
<text font-family="'Liberation Sans', sans-serif" font-size="37" fill="#000" stroke="#000" x="694.06" y="1059.9" textLength="123.07" lengthAdjust="spacingAndGlyphs" stroke-width="0.6">Bi2201</text>
<text font-family="'Liberation Sans', sans-serif" font-size="37" fill="#000" stroke="#000" x="681.34" y="1113.5" textLength="148.92" lengthAdjust="spacingAndGlyphs" stroke-width="0.6">(<tspan font-style="italic">p</tspan>=0.20)</text>
</svg>
</body></html>
